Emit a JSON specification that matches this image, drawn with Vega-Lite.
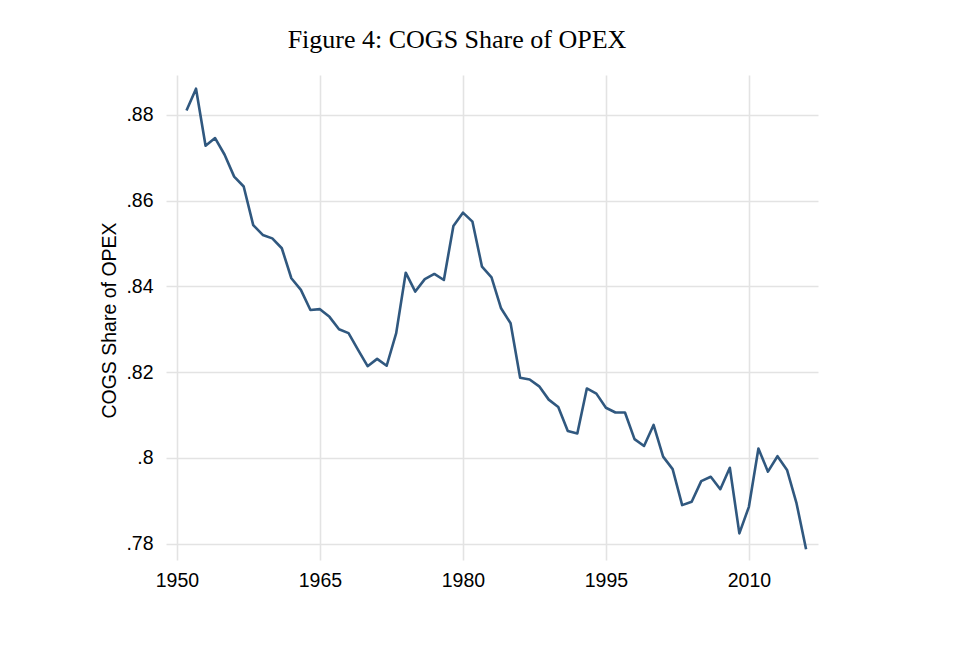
{
  "$schema": "https://vega.github.io/schema/vega-lite/v6.json",
  "width": 652,
  "height": 485,
  "autosize": "none",
  "padding": {"left": 166, "top": 75, "right": 145, "bottom": 86},
  "background": "white",
  "title": {
    "text": "Figure 4: COGS Share of OPEX",
    "font": "Liberation Serif",
    "fontSize": 26,
    "fontWeight": "normal",
    "color": "black",
    "anchor": "middle",
    "baseline": "alphabetic",
    "offset": 1,
    "dx": -35
  },
  "data": {
    "values": [
      {"year": 1951, "share": 0.8810},
      {"year": 1952, "share": 0.8861},
      {"year": 1953, "share": 0.8728},
      {"year": 1954, "share": 0.8746},
      {"year": 1955, "share": 0.8707},
      {"year": 1956, "share": 0.8656},
      {"year": 1957, "share": 0.8633},
      {"year": 1958, "share": 0.8543},
      {"year": 1959, "share": 0.8520},
      {"year": 1960, "share": 0.8512},
      {"year": 1961, "share": 0.8489},
      {"year": 1962, "share": 0.8419},
      {"year": 1963, "share": 0.8392},
      {"year": 1964, "share": 0.8345},
      {"year": 1965, "share": 0.8347},
      {"year": 1966, "share": 0.8329},
      {"year": 1967, "share": 0.8300},
      {"year": 1968, "share": 0.8291},
      {"year": 1969, "share": 0.8252},
      {"year": 1970, "share": 0.8214},
      {"year": 1971, "share": 0.8231},
      {"year": 1972, "share": 0.8215},
      {"year": 1973, "share": 0.8291},
      {"year": 1974, "share": 0.8432},
      {"year": 1975, "share": 0.8388},
      {"year": 1976, "share": 0.8417},
      {"year": 1977, "share": 0.8429},
      {"year": 1978, "share": 0.8415},
      {"year": 1979, "share": 0.8541},
      {"year": 1980, "share": 0.8572},
      {"year": 1981, "share": 0.8551},
      {"year": 1982, "share": 0.8446},
      {"year": 1983, "share": 0.8421},
      {"year": 1984, "share": 0.8349},
      {"year": 1985, "share": 0.8314},
      {"year": 1986, "share": 0.8187},
      {"year": 1987, "share": 0.8183},
      {"year": 1988, "share": 0.8167},
      {"year": 1989, "share": 0.8136},
      {"year": 1990, "share": 0.8119},
      {"year": 1991, "share": 0.8063},
      {"year": 1992, "share": 0.8057},
      {"year": 1993, "share": 0.8162},
      {"year": 1994, "share": 0.8150},
      {"year": 1995, "share": 0.8117},
      {"year": 1996, "share": 0.8106},
      {"year": 1997, "share": 0.8106},
      {"year": 1998, "share": 0.8044},
      {"year": 1999, "share": 0.8028},
      {"year": 2000, "share": 0.8077},
      {"year": 2001, "share": 0.8003},
      {"year": 2002, "share": 0.7974},
      {"year": 2003, "share": 0.7890},
      {"year": 2004, "share": 0.7898},
      {"year": 2005, "share": 0.7946},
      {"year": 2006, "share": 0.7956},
      {"year": 2007, "share": 0.7927},
      {"year": 2008, "share": 0.7977},
      {"year": 2009, "share": 0.7824},
      {"year": 2010, "share": 0.7886},
      {"year": 2011, "share": 0.8022},
      {"year": 2012, "share": 0.7968},
      {"year": 2013, "share": 0.8004},
      {"year": 2014, "share": 0.7972},
      {"year": 2015, "share": 0.7894},
      {"year": 2016, "share": 0.7787}
    ]
  },
  "mark": {"type": "line", "color": "#30587f", "strokeWidth": 2.6, "strokeJoin": "round"},
  "encoding": {
    "x": {
      "field": "year",
      "type": "quantitative",
      "scale": {"domain": [1948.85, 2017.25], "nice": false, "zero": false},
      "axis": {
        "title": null,
        "values": [1950, 1965, 1980, 1995, 2010],
        "format": "d",
        "labelPadding": 11
      }
    },
    "y": {
      "field": "share",
      "type": "quantitative",
      "scale": {"domain": [0.7762, 0.8893], "nice": false, "zero": false},
      "axis": {
        "title": "COGS Share of OPEX",
        "values": [0.78, 0.8, 0.82, 0.84, 0.86, 0.88],
        "labelExpr": "substring(format(datum.value, '.2~f'), 1)",
        "labelPadding": 13,
        "titleX": -51,
        "titleY": 245,
        "titleBaseline": "alphabetic",
        "titleAngle": -90,
        "titleAlign": "center"
      }
    }
  },
  "config": {
    "view": {"stroke": null},
    "axis": {
      "domain": false,
      "ticks": false,
      "grid": true,
      "gridColor": "#e3e3e3",
      "gridWidth": 1.6,
      "labelFont": "Liberation Sans",
      "labelFontSize": 19.5,
      "labelColor": "black",
      "titleFont": "Liberation Sans",
      "titleFontSize": 19.5,
      "titleFontWeight": "normal",
      "titleColor": "black"
    }
  }
}
